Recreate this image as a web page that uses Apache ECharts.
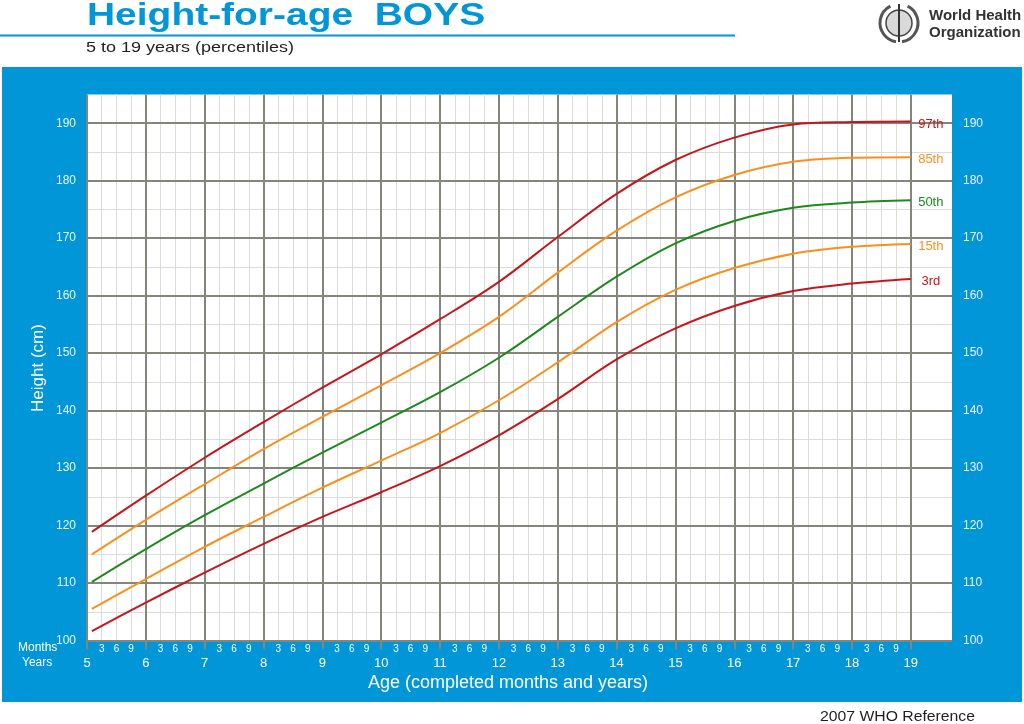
<!DOCTYPE html>
<html>
<head>
<meta charset="utf-8">
<script src="https://cdn.jsdelivr.net/npm/echarts@6/dist/echarts.min.js"></script>
<style>html,body{margin:0;padding:0;background:#fff;}#c{width:1024px;height:724px;}</style>
</head>
<body>
<div id="c"></div>
<script>
// ---- data ----
const ages = [5.083, 6, 7, 8, 9, 10, 11, 12, 13, 14, 15, 16, 17, 18, 19];
const p97 = [118.9, 125.2, 131.8, 138.0, 144.0, 149.8, 155.9, 162.4, 170.2, 177.7, 183.6, 187.5, 189.8, 190.2, 190.3];
const p85 = [115.0, 121.0, 127.2, 133.3, 138.9, 144.4, 150.0, 156.3, 164.0, 171.3, 177.1, 181.0, 183.3, 184.0, 184.1];
const p50 = [110.2, 115.9, 121.8, 127.3, 132.7, 137.9, 143.2, 149.2, 156.3, 163.3, 169.1, 173.0, 175.3, 176.2, 176.6];
const p15 = [105.5, 110.7, 116.3, 121.5, 126.6, 131.3, 136.1, 141.8, 148.4, 155.4, 161.0, 164.8, 167.3, 168.5, 169.0];
const p3  = [101.65, 106.6, 111.8, 116.8, 121.5, 125.8, 130.35, 135.7, 142.0, 148.9, 154.3, 158.2, 160.8, 162.1, 162.9];
const seriesNames = ['97th', '85th', '50th', '15th', '3rd'];
const yearLabels = [5, 6, 7, 8, 9, 10, 11, 12, 13, 14, 15, 16, 17, 18, 19];
const monthLabels = ['3', '6', '9'];
const heightTicks = [100, 110, 120, 130, 140, 150, 160, 170, 180, 190];

// ---- derived ----
const XMIN = 5, XMAX = 19.7, YMIN = 100, YMAX = 195;
const quarterValues = [];
for (let v = 5; v <= 19.0001; v += 0.25) quarterValues.push(Math.round(v * 100) / 100);
const monthValues = quarterValues.filter(v => Math.abs(v - Math.round(v)) > 1e-6);
const DARK = '#85857b', LIGHT = '#dcdcdc', NONE = 'rgba(0,0,0,0)', BLUE = '#0096d7';
const lightColors = [];
for (let k = 0; k < 62; k++) lightColors.push(5 + 0.25 * k <= 19.0001 ? LIGHT : NONE);
const darkColors = yearLabels.map(() => DARK).concat([NONE, NONE]);
const zip = arr => ages.map((a, i) => [a, arr[i]]);
const colors = ['#c4161c', '#f7901e', '#1e8a1e', '#f7901e', '#c4161c'];
const allData = [p97, p85, p50, p15, p3];

const chart = echarts.init(document.getElementById('c'), null, {renderer: 'canvas'});
const FONT = '"Liberation Sans", Arial, sans-serif';

const option = {
  animation: false,
  backgroundColor: '#ffffff',
  textStyle: {fontFamily: FONT},
  grid: {left: 87, right: 72, top: 94.5, bottom: 83.5, show: true, backgroundColor: '#ffffff', borderWidth: 0},
  xAxis: [
    {
      type: 'value', min: XMIN, max: XMAX, interval: 0.25, position: 'bottom',
      axisLine: {show: false},
      axisTick: {show: false, customValues: quarterValues},
      axisLabel: {
        customValues: monthValues, color: '#ffffff', fontSize: 10, margin: 4,
        formatter: v => monthLabels[Math.round((v - Math.floor(v)) * 4) - 1]
      },
      splitLine: {show: true, lineStyle: {color: lightColors, width: 1}}
    },
    {
      type: 'value', min: XMIN, max: XMAX, interval: 1, position: 'bottom', z: 1,
      axisLine: {show: false},
      axisTick: {show: true, customValues: yearLabels, length: 9, lineStyle: {color: DARK, width: 2}},
      axisLabel: {customValues: yearLabels, color: '#ffffff', fontSize: 13, margin: 16, showMaxLabel: true},
      splitLine: {show: true, lineStyle: {color: darkColors, width: 2}}
    }
  ],
  yAxis: [
    {
      type: 'value', min: YMIN, max: YMAX, interval: 10, position: 'left', z: 1,
      axisLine: {show: false}, axisTick: {show: false},
      axisLabel: {color: '#eaf5fc', fontSize: 12, margin: 11, showMaxLabel: false,
        formatter: v => heightTicks.indexOf(v) >= 0 ? String(v) : ''},
      splitLine: {show: true, showMaxLine: false, lineStyle: {color: DARK, width: 2}}
    },
    {
      type: 'value', min: YMIN, max: YMAX, interval: 5, position: 'right',
      axisLine: {show: false}, axisTick: {show: false},
      axisLabel: {color: '#eaf5fc', fontSize: 12, margin: 11, showMaxLabel: false,
        formatter: v => heightTicks.indexOf(v) >= 0 ? String(v) : ''},
      splitLine: {show: true, showMaxLine: false, lineStyle: {color: LIGHT, width: 1}}
    }
  ],
  series: seriesNames.map((name, i) => ({
    type: 'line', name: name, xAxisIndex: 0, yAxisIndex: 0, z: 3,
    data: zip(allData[i]), smooth: 0.35, symbol: 'none',
    lineStyle: {color: colors[i], width: 2},
    endLabel: {show: true, formatter: name, color: colors[i], fontSize: 13, align: 'center', distance: 20, offset: [0, 2.5], fontFamily: FONT}
  })),
  graphic: {
    elements: [
      {type: 'rect', z: -1, shape: {x: 2, y: 67, width: 1020, height: 635}, style: {fill: BLUE}},
      {type: 'text', x: 87, y: 16.5, scaleX: 1.217, style: {text: 'Height-for-age  BOYS', font: 'bold 32px ' + FONT, fill: BLUE, textVerticalAlign: 'middle'}},
      {type: 'rect', shape: {x: 0, y: 34.5, width: 735, height: 2}, style: {fill: BLUE}},
      {type: 'text', x: 86, y: 48, scaleX: 1.2, style: {text: '5 to 19 years (percentiles)', font: '15px ' + FONT, fill: '#231f20', textVerticalAlign: 'middle'}},
      {type: 'circle', shape: {cx: 899, cy: 23, r: 13}, style: {fill: '#d9d9d9', stroke: '#444', lineWidth: 1.5}},
      {type: 'arc', shape: {cx: 899, cy: 23, r: 19, startAngle: Math.PI * 0.55, endAngle: Math.PI * 1.35}, style: {stroke: '#555', lineWidth: 3, fill: null}},
      {type: 'arc', shape: {cx: 899, cy: 23, r: 19, startAngle: -Math.PI * 0.35, endAngle: Math.PI * 0.45}, style: {stroke: '#555', lineWidth: 3, fill: null}},
      {type: 'line', shape: {x1: 899, y1: 4, x2: 899, y2: 42}, style: {stroke: '#333', lineWidth: 2}},
      {type: 'text', x: 929, y: 16, style: {text: 'World Health', font: 'bold 15px ' + FONT, fill: '#333', textVerticalAlign: 'middle'}},
      {type: 'text', x: 929, y: 33, style: {text: 'Organization', font: 'bold 15px ' + FONT, fill: '#333', textVerticalAlign: 'middle'}},
      {type: 'text', x: 18, y: 648, style: {text: 'Months', font: '12px ' + FONT, fill: '#ffffff', textVerticalAlign: 'middle'}},
      {type: 'text', x: 22, y: 663, style: {text: 'Years', font: '12px ' + FONT, fill: '#ffffff', textVerticalAlign: 'middle'}},
      {type: 'text', x: 508, y: 683, style: {text: 'Age (completed months and years)', font: '18px ' + FONT, fill: '#ffffff', textAlign: 'center', textVerticalAlign: 'middle'}},
      {type: 'text', x: 38, y: 368, rotation: Math.PI / 2, style: {text: 'Height (cm)', font: '17px ' + FONT, fill: '#ffffff', textAlign: 'center', textVerticalAlign: 'middle'}},
      {type: 'text', x: 975, y: 717, scaleX: 1.05, style: {text: '2007 WHO Reference', font: '15px ' + FONT, fill: '#231f20', textAlign: 'right', textVerticalAlign: 'middle'}}
    ]
  }
};
chart.setOption(option);
</script>
</body>
</html>
